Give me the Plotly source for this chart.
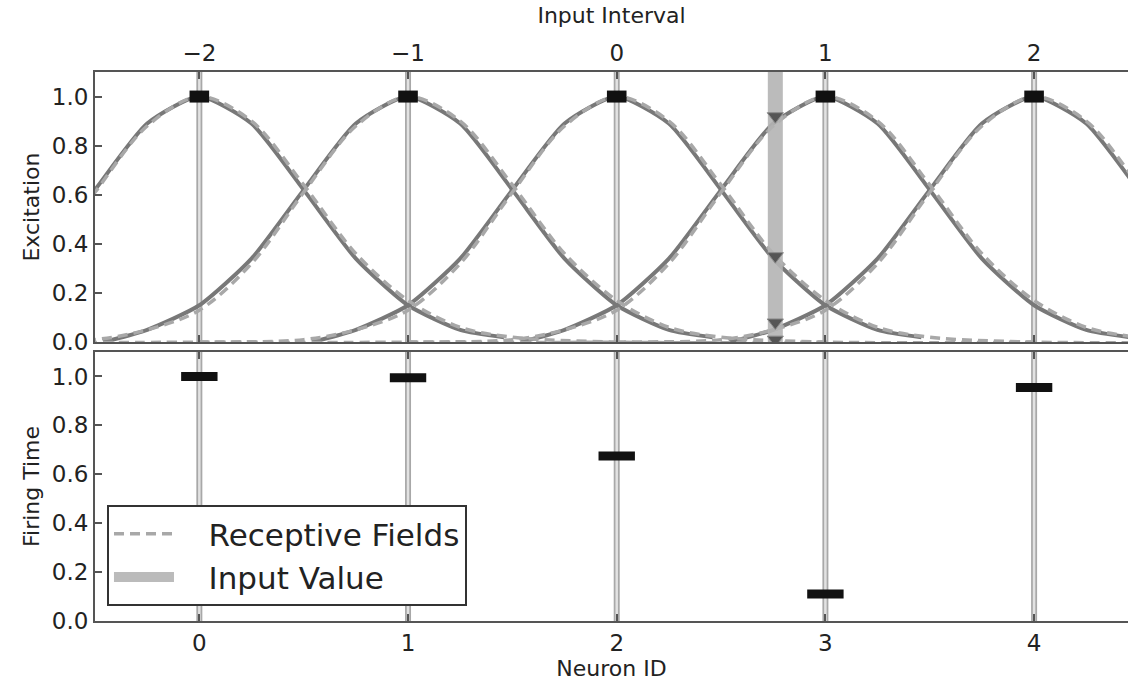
import plotly.graph_objects as go

# Neuron layout and input
neuron_ids = [0, 1, 2, 3, 4]
interval_labels = ["\u22122", "\u22121", "0", "1", "2"]
input_value = 2.76

# Receptive-field profile (offset from neuron centre -> excitation)
field_offsets = [-3.0, -2.0, -1.5, -1.25, -1.0, -0.75, -0.5, -0.25, 0.0,
                 0.25, 0.5, 0.75, 1.0, 1.25, 1.5, 2.0, 3.0]
field_values = [0.0, 0.0, 0.01, 0.05, 0.13, 0.32, 0.61, 0.88, 1.0,
                0.90, 0.64, 0.36, 0.17, 0.06, 0.02, 0.0, 0.0]

# Sampled excitation curves
sample_offsets = [-1.46, -1.25, -1.0, -0.75, -0.5, -0.25, 0.0,
                  0.25, 0.5, 0.75, 1.0, 1.25, 1.46]
sample_values = [0.0, 0.05, 0.15, 0.34, 0.62, 0.89, 1.0,
                 0.89, 0.62, 0.34, 0.15, 0.05, 0.02]

# Excitation of each neuron at the input value
hit_neurons = [3, 2, 4, 1]
hit_excitation = [0.92, 0.35, 0.08, 0.01]

# Firing time per neuron
firing_time = [1.0, 0.995, 0.675, 0.11, 0.955]
peak_excitation = [1.0, 1.0, 1.0, 1.0, 1.0]

FONT = "DejaVu Sans"
TXT = "#222222"
AX = "#555555"
PAD = "\u00a0" * 3

fig = go.Figure()

# Vertical guide lines at each neuron (both panels)
for n in neuron_ids:
    for xa, ya in (("x", "y"), ("x2", "y2")):
        fig.add_trace(go.Scatter(x=[n, n], y=[0, 1.1], mode="lines",
                                 line=dict(color="#a8a8a8", width=6),
                                 xaxis=xa, yaxis=ya, showlegend=False, hoverinfo="skip"))
        fig.add_trace(go.Scatter(x=[n, n], y=[0, 1.1], mode="lines",
                                 line=dict(color="#e2e2e2", width=2.5),
                                 xaxis=xa, yaxis=ya, showlegend=False, hoverinfo="skip"))

# Sampled excitation curves (solid)
for n in neuron_ids:
    fig.add_trace(go.Scatter(
        x=[n + o for o in sample_offsets], y=sample_values, mode="lines",
        line=dict(color="#787878", width=4, shape="spline", smoothing=0.6),
        xaxis="x", yaxis="y", showlegend=False, hoverinfo="skip"))

# Receptive fields (smooth, dashed)
for i, n in enumerate(neuron_ids):
    fig.add_trace(go.Scatter(
        x=[n + o for o in field_offsets], y=field_values, mode="lines",
        line=dict(color="#a8a8a8", width=3.5, dash="10px,6px", shape="spline", smoothing=0.9),
        name=PAD + "Receptive Fields", showlegend=(i == 0), legendrank=1,
        xaxis="x", yaxis="y", hoverinfo="skip"))

# Input value band
fig.add_trace(go.Scatter(
    x=[input_value, input_value], y=[0, 1.1], mode="lines",
    line=dict(color="#b4b4b4", width=15), opacity=0.9,
    name=PAD + "Input Value", legendrank=2, xaxis="x", yaxis="y", hoverinfo="skip"))

# Excitation at input
fig.add_trace(go.Scatter(
    x=[input_value] * len(hit_excitation), y=hit_excitation, mode="markers",
    marker=dict(symbol="triangle-down", size=14, color="#555555",
                line=dict(color="#8a8a8a", width=1)),
    xaxis="x", yaxis="y", showlegend=False, hoverinfo="skip"))

# Peak markers
fig.add_trace(go.Scatter(
    x=neuron_ids, y=peak_excitation, mode="markers",
    marker=dict(symbol="line-ew", size=14, line=dict(color="#111111", width=12)),
    xaxis="x", yaxis="y", showlegend=False, hoverinfo="skip", cliponaxis=False))

# Firing times
fig.add_trace(go.Scatter(
    x=neuron_ids, y=firing_time, mode="markers",
    marker=dict(symbol="line-ew", size=26, line=dict(color="#111111", width=9)),
    xaxis="x2", yaxis="y2", showlegend=False, hoverinfo="skip"))

tickfont = dict(family=FONT, size=23, color=TXT)
titlefont = dict(family=FONT, size=22, color=TXT)
y_ticks = [0.0, 0.2, 0.4, 0.6, 0.8, 1.0]
y_text = ["0.0", "0.2", "0.4", "0.6", "0.8", "1.0"]

common_x = dict(range=[-0.5, 4.45], showline=True, linecolor=AX, linewidth=2,
                mirror="ticks", ticks="inside", ticklen=7, tickwidth=2, tickcolor=AX,
                showgrid=False, zeroline=False, tickfont=tickfont)
common_y = dict(range=[0, 1.1], showline=True, linecolor=AX, linewidth=2,
                ticks="inside", ticklen=7, tickwidth=2, tickcolor=AX,
                showgrid=False, zeroline=False, tickfont=tickfont,
                tickvals=y_ticks, ticktext=y_text)

fig.update_layout(
    width=1128, height=682,
    margin=dict(l=95, r=0, t=72, b=61),
    paper_bgcolor="white", plot_bgcolor="white",
    xaxis=dict(common_x, anchor="y", side="top", domain=[0, 1],
               tickvals=neuron_ids, ticktext=interval_labels,
               title=dict(text="Input Interval", font=titlefont, standoff=10)),
    yaxis=dict(common_y, domain=[0.508, 1.0], anchor="x",
               title=dict(text="Excitation", font=titlefont, standoff=6)),
    xaxis2=dict(common_x, anchor="y2", side="bottom", domain=[0, 1],
                tickvals=neuron_ids, ticktext=[str(n) for n in neuron_ids],
                title=dict(text="Neuron ID", font=titlefont, standoff=4)),
    yaxis2=dict(common_y, domain=[0.0, 0.49], anchor="x2",
                title=dict(text="Firing Time", font=titlefont, standoff=6)),
    legend=dict(x=0.0116, y=0.211, xanchor="left", yanchor="top",
                bgcolor="white", bordercolor="#333333", borderwidth=2,
                font=dict(family=FONT, size=31, color=TXT),
                itemwidth=60, tracegroupgap=4),
    showlegend=True,
)

fig.write_html("out.html")
